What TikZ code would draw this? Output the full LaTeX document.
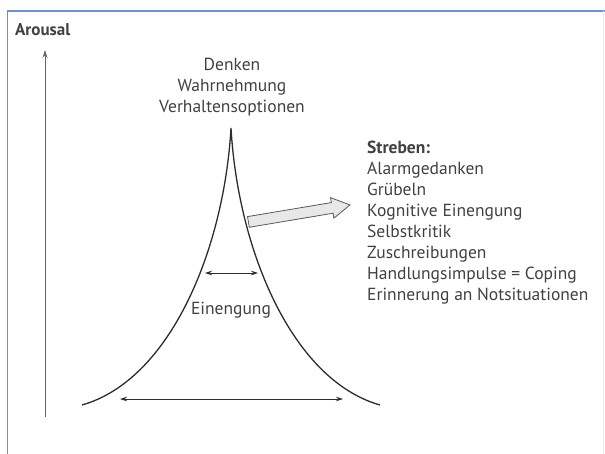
\documentclass[tikz,border=0pt]{standalone}
\usepackage{fontspec}
\setmainfont{PT Sans}
\usetikzlibrary{positioning,arrows.meta,shapes.arrows}
\definecolor{frameblue}{RGB}{105,145,220}
\definecolor{inkgray}{RGB}{45,45,45}
\definecolor{textgray}{RGB}{65,65,65}
\tikzset{
  label text/.style={text=textgray, font=\fontsize{17.5}{21}\selectfont, inner sep=0pt},
  flank/.style={draw=inkgray, line width=1.3pt},
  span/.style={draw=inkgray, line width=0.7pt,
    {Stealth[length=7pt,width=4.5pt]}-{Stealth[length=7pt,width=4.5pt]}},
  axis line/.style={draw=gray!80!black, line width=0.8pt, -{Stealth[length=8pt,width=5pt]}},
  push arrow/.style={single arrow, draw=gray!70!black, fill=gray!18, line width=0.8pt,
    minimum height=103pt, minimum width=20pt, inner sep=5pt,
    single arrow tip angle=60, single arrow head extend=5pt}
}
\begin{document}
\begin{tikzpicture}[x=1pt,y=-1pt]
\useasboundingbox (0,0) rectangle (605,454);
% frame
\draw[frameblue, line width=1.6pt] (7.5,454) -- (7.5,11) -- (605,11);
\draw[gray!15, line width=0.8pt] (603,11) -- (603,454);

% arousal axis
\coordinate (axisbot) at (45,417);
\coordinate (axistop) at (45,50);
\draw[axis line] (axisbot) -- (axistop);
\node[label text, font=\fontsize{17}{20}\bfseries, anchor=west] (arousal) at (15,30) {Arousal};

% peak
\coordinate (peak) at (231,128);
\coordinate (baseL) at (82,405);
\coordinate (baseR) at (380,405);
\draw[flank] (baseL) .. controls (170,380) and (224,250) .. (peak)
  .. controls (238,250) and (292,380) .. (baseR);

\node[label text, align=center] (thinking) at (232,87) {Denken\\Wahrnehmung\\Verhaltensoptionen};

% widths
\coordinate (narrowL) at (205,273);
\coordinate (narrowR) at (258,273);
\draw[span] (narrowL) -- (narrowR);
\coordinate (wideL) at (120,399);
\coordinate (wideR) at (343,399);
\draw[span] (wideL) -- (wideR);
\node[label text] (einengung) at (231,310) {Einengung};

% strivings
\node[label text, align=left, anchor=west] (streben) at (367,223)
  {\textbf{Streben:}\\Alarmgedanken\\Grübeln\\Kognitive Einengung\\Selbstkritik\\Zuschreibungen\\Handlungsimpulse = Coping\\Erinnerung an Notsituationen};
\coordinate (arrowfoot) at (248,222);
\node[push arrow, anchor=tail, rotate=9.5] (push) at (arrowfoot) {};
\end{tikzpicture}
\end{document}
